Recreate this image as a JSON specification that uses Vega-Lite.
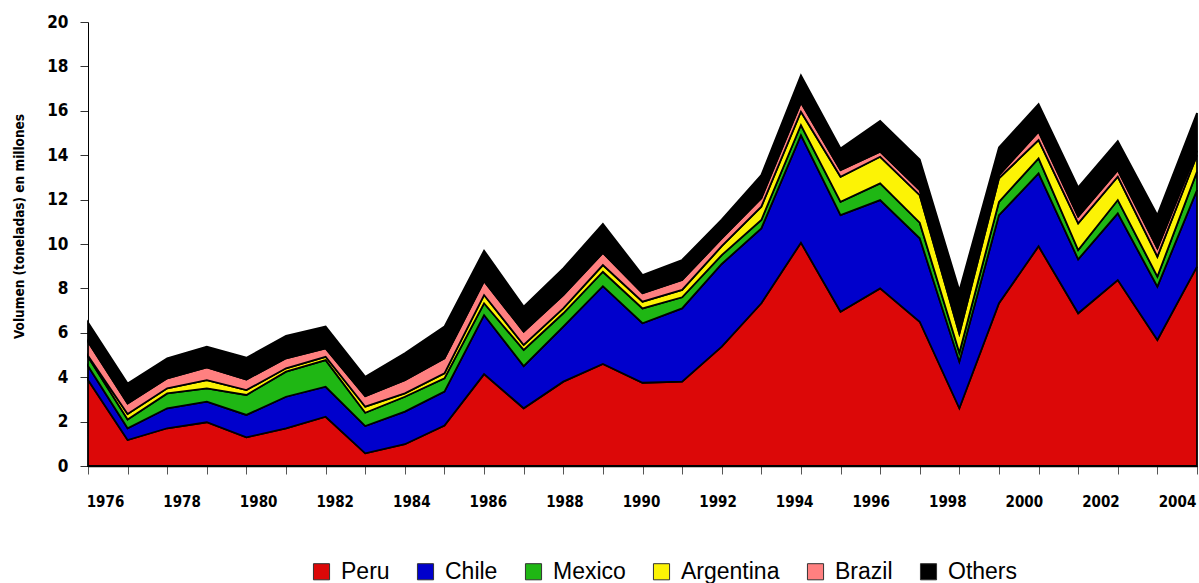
{
  "$schema": "https://vega.github.io/schema/vega-lite/v6.json",
  "width": 1109,
  "height": 444,
  "autosize": {"type": "none"},
  "padding": {"left": 88, "top": 22, "right": 2, "bottom": 117},
  "background": "white",
  "config": {"view": {"stroke": null}},
  "data": {
    "values": [
      {"year": 1976, "Peru": 3.87, "Chile": 0.63, "Mexico": 0.42, "Argentina": 0.05, "Brazil": 0.63, "Others": 0.86},
      {"year": 1977, "Peru": 1.17, "Chile": 0.53, "Mexico": 0.40, "Argentina": 0.24, "Brazil": 0.48, "Others": 0.90},
      {"year": 1978, "Peru": 1.70, "Chile": 0.90, "Mexico": 0.67, "Argentina": 0.23, "Brazil": 0.45, "Others": 0.90},
      {"year": 1979, "Peru": 1.97, "Chile": 0.93, "Mexico": 0.60, "Argentina": 0.37, "Brazil": 0.57, "Others": 0.94},
      {"year": 1980, "Peru": 1.29, "Chile": 1.01, "Mexico": 0.90, "Argentina": 0.22, "Brazil": 0.48, "Others": 0.98},
      {"year": 1981, "Peru": 1.70, "Chile": 1.42, "Mexico": 1.13, "Argentina": 0.15, "Brazil": 0.45, "Others": 1.01},
      {"year": 1982, "Peru": 2.22, "Chile": 1.35, "Mexico": 1.20, "Argentina": 0.15, "Brazil": 0.38, "Others": 0.98},
      {"year": 1983, "Peru": 0.57, "Chile": 1.23, "Mexico": 0.60, "Argentina": 0.27, "Brazil": 0.48, "Others": 0.87},
      {"year": 1984, "Peru": 0.98, "Chile": 1.47, "Mexico": 0.67, "Argentina": 0.15, "Brazil": 0.60, "Others": 1.21},
      {"year": 1985, "Peru": 1.82, "Chile": 1.53, "Mexico": 0.60, "Argentina": 0.22, "Brazil": 0.68, "Others": 1.43},
      {"year": 1986, "Peru": 4.14, "Chile": 2.66, "Mexico": 0.53, "Argentina": 0.37, "Brazil": 0.63, "Others": 1.37},
      {"year": 1987, "Peru": 2.60, "Chile": 1.90, "Mexico": 0.73, "Argentina": 0.22, "Brazil": 0.60, "Others": 1.13},
      {"year": 1988, "Peru": 3.80, "Chile": 2.48, "Mexico": 0.60, "Argentina": 0.22, "Brazil": 0.60, "Others": 1.20},
      {"year": 1989, "Peru": 4.60, "Chile": 3.50, "Mexico": 0.65, "Argentina": 0.30, "Brazil": 0.55, "Others": 1.30},
      {"year": 1990, "Peru": 3.75, "Chile": 2.68, "Mexico": 0.67, "Argentina": 0.30, "Brazil": 0.38, "Others": 0.82},
      {"year": 1991, "Peru": 3.80, "Chile": 3.30, "Mexico": 0.50, "Argentina": 0.33, "Brazil": 0.45, "Others": 0.90},
      {"year": 1992, "Peru": 5.38, "Chile": 3.72, "Mexico": 0.40, "Argentina": 0.40, "Brazil": 0.35, "Others": 0.85},
      {"year": 1993, "Peru": 7.33, "Chile": 3.37, "Mexico": 0.38, "Argentina": 0.60, "Brazil": 0.38, "Others": 1.04},
      {"year": 1994, "Peru": 10.06, "Chile": 4.84, "Mexico": 0.46, "Argentina": 0.60, "Brazil": 0.41, "Others": 1.23},
      {"year": 1995, "Peru": 6.95, "Chile": 4.35, "Mexico": 0.60, "Argentina": 1.13, "Brazil": 0.30, "Others": 0.97},
      {"year": 1996, "Peru": 8.00, "Chile": 3.98, "Mexico": 0.75, "Argentina": 1.20, "Brazil": 0.23, "Others": 1.38},
      {"year": 1997, "Peru": 6.50, "Chile": 3.76, "Mexico": 0.70, "Argentina": 1.24, "Brazil": 0.23, "Others": 1.38},
      {"year": 1998, "Peru": 2.60, "Chile": 2.10, "Mexico": 0.40, "Argentina": 0.85, "Brazil": 0.25, "Others": 1.70},
      {"year": 1999, "Peru": 7.33, "Chile": 3.97, "Mexico": 0.60, "Argentina": 1.06, "Brazil": 0.14, "Others": 1.25},
      {"year": 2000, "Peru": 9.90, "Chile": 3.28, "Mexico": 0.68, "Argentina": 0.82, "Brazil": 0.38, "Others": 1.24},
      {"year": 2001, "Peru": 6.88, "Chile": 2.43, "Mexico": 0.42, "Argentina": 1.20, "Brazil": 0.30, "Others": 1.32},
      {"year": 2002, "Peru": 8.38, "Chile": 3.00, "Mexico": 0.60, "Argentina": 1.05, "Brazil": 0.30, "Others": 1.31},
      {"year": 2003, "Peru": 5.68, "Chile": 2.40, "Mexico": 0.45, "Argentina": 0.90, "Brazil": 0.37, "Others": 1.50},
      {"year": 2004, "Peru": 8.98, "Chile": 3.45, "Mexico": 0.83, "Argentina": 0.74, "Brazil": 0.20, "Others": 1.70}
    ]
  },
  "transform": [
    {"fold": ["Peru", "Chile", "Mexico", "Argentina", "Brazil", "Others"], "as": ["series", "value"]},
    {"calculate": "indexof(['Peru','Chile','Mexico','Argentina','Brazil','Others'], datum.series)", "as": "ord"}
  ],
  "layer": [
    {
      "mark": {"type": "area", "stroke": "black", "strokeWidth": 1.8, "strokeJoin": "miter", "opacity": 1},
      "encoding": {
        "x": {
          "field": "year", "type": "quantitative",
          "scale": {"domain": [1976, 2004], "nice": false, "zero": false},
          "axis": {
            "orient": "bottom",
            "title": null,
            "values": [1976,1977,1978,1979,1980,1981,1982,1983,1984,1985,1986,1987,1988,1989,1990,1991,1992,1993,1994,1995,1996,1997,1998,1999,2000,2001,2002,2003,2004],
            "labels": false,
            "tickSize": 8,
            "tickColor": "#555555",
            "tickWidth": 1,
            "domainColor": "black",
            "domainWidth": 1.5,
            "grid": false
          }
        },
        "y": {
          "field": "value", "type": "quantitative", "stack": "zero",
          "scale": {"domain": [0, 20], "nice": false},
          "axis": {
            "title": "Volumen (toneladas) en millones",
            "titleFont": "DejaVu Sans Condensed",
            "titleFontWeight": "bold",
            "titleFontSize": 13.5,
            "titleColor": "black",
            "titlePadding": 20,
            "titleY": 204,
            "values": [0,2,4,6,8,10,12,14,16,18,20],
            "labelFont": "DejaVu Sans Condensed",
            "labelFontWeight": "bold",
            "labelFontSize": 17,
            "labelColor": "black",
            "labelPadding": 12,
            "tickSize": 8,
            "tickColor": "#333333",
            "domainColor": "black",
            "domainWidth": 1,
            "grid": false
          }
        },
        "color": {
          "field": "series", "type": "nominal",
          "sort": ["Peru", "Chile", "Mexico", "Argentina", "Brazil", "Others"],
          "scale": {
            "domain": ["Peru", "Chile", "Mexico", "Argentina", "Brazil", "Others"],
            "range": ["#dc0808", "#0000cc", "#1fb714", "#fcf305", "#ff8080", "#000000"]
          },
          "legend": {
            "title": null,
            "orient": "none",
            "direction": "horizontal",
            "legendX": 222,
            "legendY": 538,
            "symbolType": "square",
            "symbolSize": 260,
            "symbolStrokeColor": "#333333",
            "symbolStrokeWidth": 1,
            "symbolOpacity": 1,
            "labelFont": "Liberation Sans",
            "labelFontSize": 23,
            "labelColor": "black",
            "labelOffset": 8,
            "columnPadding": 24,
            "padding": 0
          }
        },
        "order": {"field": "ord", "type": "quantitative"}
      }
    },
    {
      "mark": {"type": "rule", "strokeOpacity": 0},
      "encoding": {
        "x": {
          "field": "year", "type": "quantitative",
          "scale": {"domain": [1975.556, 2004.522], "nice": false, "zero": false},
          "axis": {
            "orient": "bottom",
            "title": null,
            "values": [1976,1978,1980,1982,1984,1986,1988,1990,1992,1994,1996,1998,2000,2002,2004],
            "format": "d",
            "ticks": false,
            "tickSize": 0,
            "domain": false,
            "grid": false,
            "labelFont": "DejaVu Sans Condensed",
            "labelFontWeight": "bold",
            "labelFontSize": 15,
            "labelColor": "black",
            "labelBaseline": "top",
            "labelPadding": 28,
            "labelOverlap": false,
            "labelFlush": false
          }
        }
      }
    }
  ],
  "resolve": {"scale": {"x": "independent"}, "axis": {"x": "independent"}}
}
